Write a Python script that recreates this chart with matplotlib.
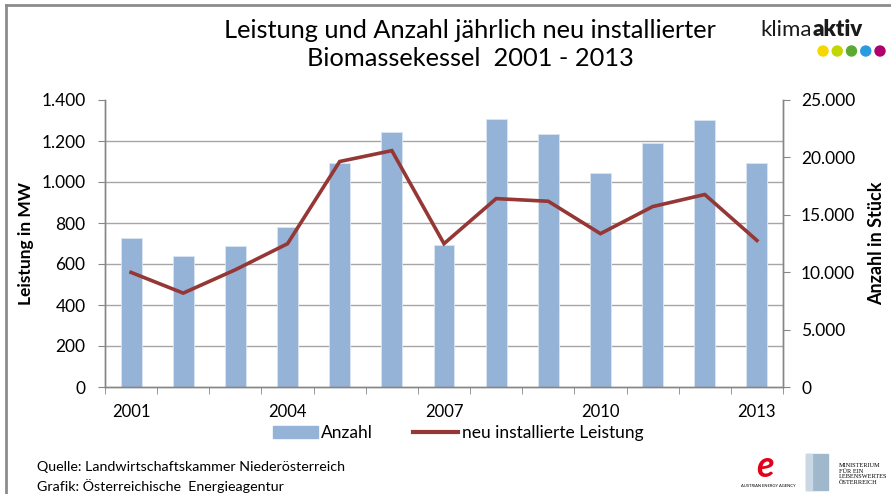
import matplotlib
matplotlib.use("Agg")
import matplotlib.pyplot as plt
import numpy as np
from matplotlib.lines import Line2D
from matplotlib.patches import Rectangle, Ellipse

years = [2001, 2002, 2003, 2004, 2005, 2006, 2007, 2008, 2009, 2010, 2011, 2012, 2013]
anzahl = [13000, 11450, 12250, 13950, 19550, 22250, 12400, 23350, 22050, 18650, 21250, 23250, 19550]
leistung_mw = [559, 458, 572, 699, 1100, 1153, 699, 919, 906, 748, 880, 939, 715]
xtick_labels = ["2001", "", "", "2004", "", "", "2007", "", "", "2010", "", "", "2013"]
left_ticks = [0, 200, 400, 600, 800, 1000, 1200, 1400]
left_labels = ["0", "200", "400", "600", "800", "1.000", "1.200", "1.400"]
right_ticks = [0, 5000, 10000, 15000, 20000, 25000]
right_labels = ["0", "5.000", "10.000", "15.000", "20.000", "25.000"]

plt.rcParams['font.family'] = ['Lato', 'DejaVu Sans']

fig = plt.figure(figsize=(8.91, 4.94), dpi=100)
W, H = 891, 494
ax = fig.add_axes([105 / W, 1 - 387 / H, (783 - 105) / W, (387 - 100) / H])
ax2 = ax.twinx()

x = np.arange(len(years))
bar_col = "#95B3D7"
line_col = "#953735"
grid_col = "#a6a6a6"

# Bars on ax (Anzahl, right ticks)
ax.bar(x, anzahl, width=0.4, color=bar_col, edgecolor="#dce6f2", linewidth=0.6, zorder=2)
ax.set_ylim(0, 25000)
ax.set_xlim(-0.5, len(years) - 0.5)
# gridlines matching left-axis ticks
ax.set_yticks(np.linspace(0, 25000, len(left_ticks)), minor=True)
ax.yaxis.grid(True, which="minor", color=grid_col, linewidth=1.0)
ax.set_axisbelow(True)
ax.yaxis.tick_right()
ax.yaxis.set_label_position("right")
ax.set_yticks(right_ticks)
ax.set_yticklabels(right_labels)
ax.tick_params(axis="y", which="minor", length=0, right=False, left=False)
ax.tick_params(axis="y", which="major", length=5, color="#868686", labelsize=12.5, pad=8, labelcolor="black")
ax.set_ylabel("Anzahl in Stück", fontsize=13, fontweight="bold", rotation=90, labelpad=9)

# x axis
ax.set_xticks(x)
ax.set_xticklabels(xtick_labels, fontsize=12)
ax.set_xticks(np.arange(-0.5, len(years), 1.0), minor=True)
ax.tick_params(axis="x", which="major", length=0, pad=12)
ax.tick_params(axis="x", which="minor", length=5, color="#868686", direction="out")

# line on ax2 (MW, left ticks)
ax2.plot(x, leistung_mw, color=line_col, linewidth=2.6, zorder=3, solid_joinstyle="miter")
ax2.set_ylim(0, 1400)
ax2.yaxis.tick_left()
ax2.yaxis.set_label_position("left")
ax2.set_yticks(left_ticks)
ax2.set_yticklabels(left_labels)
ax2.tick_params(axis="y", length=5, color="#868686", labelsize=12.5, pad=9)
ax2.set_ylabel("Leistung in MW", fontsize=12.5, fontweight="bold", labelpad=5)

for a in (ax, ax2):
    a.spines["top"].set_visible(False)
    for s in ("left", "right", "bottom"):
        a.spines[s].set_color("#868686")
        a.spines[s].set_linewidth(1.0)

# Legend
handles = [Rectangle((0, 0), 1, 1, color=bar_col), Line2D([0], [0], color=line_col, linewidth=3)]
fig.legend(handles, ["Anzahl", "neu installierte Leistung"], loc="center", bbox_to_anchor=(458 / W, 1 - 433 / H),
           ncol=2, frameon=False, fontsize=12.5, handlelength=2.6, handletextpad=0.2, columnspacing=2.3)

# Title
fig.text(470 / W, 1 - 30 / H, "Leistung und Anzahl jährlich neu installierter", ha="center", va="center", fontsize=18.3)
fig.text(470 / W, 1 - 58 / H, "Biomassekessel  2001 - 2013", ha="center", va="center", fontsize=18.3)

# Frame lines of the slide
fig.add_artist(Line2D([6 / W, 6 / W], [0, 1 - 5 / H], color="#8c8c8c", linewidth=2, transform=fig.transFigure))
fig.add_artist(Line2D([6 / W, 1], [1 - 5 / H, 1 - 5 / H], color="#8c8c8c", linewidth=2, transform=fig.transFigure))

# klimaaktiv logo
t1 = fig.text(760 / W, 1 - 36 / H, "klima", ha="left", va="baseline", fontsize=16, color="#1a1a1a")
fig.add_artist(matplotlib.text.Annotation("aktiv", xy=(1, 0), xycoords=t1, xytext=(0.5, 0), textcoords="offset points",
                                          ha="left", va="bottom", fontsize=16, color="#1a1a1a", fontweight="heavy"))
dot_cols = ["#f5d800", "#c4d600", "#5aaa32", "#2b9be0", "#b0006e"]
for i, c in enumerate(dot_cols):
    fig.add_artist(Ellipse(((823 + i * 14.25) / W, 1 - 51 / H), 10 / W, 10 / H, color=c, transform=fig.transFigure))

# Footer
fig.text(37 / W, 1 - 467 / H, "Quelle: Landwirtschaftskammer Niederösterreich", fontsize=10.3, va="center")
fig.text(37 / W, 1 - 486 / H, "Grafik: Österreichische  Energieagentur", fontsize=10.3, va="center")

# bottom-right logos (approximate)
fig.text(765 / W, 1 - 466 / H, "e", fontsize=26, color="#e2001a", fontweight="bold", style="italic", ha="center", va="center")
fig.text(768 / W, 1 - 486 / H, "AUSTRIAN ENERGY AGENCY", fontsize=3, ha="center", va="center")
fig.add_artist(Rectangle((806 / W, 1 - 490 / H), 22 / W, 36 / H, color="#9fb8cc", transform=fig.transFigure))
fig.add_artist(Rectangle((806 / W, 1 - 490 / H), 6 / W, 36 / H, color="#c9d8e4", transform=fig.transFigure))
fig.text(839 / W, 1 - 474 / H, "MINISTERIUM\nFÜR EIN\nLEBENSWERTES\nÖSTERREICH", fontsize=4.5, family=["Liberation Serif"], va="center", ha="left", linespacing=1.1)

fig.savefig("out.png", dpi=100)
